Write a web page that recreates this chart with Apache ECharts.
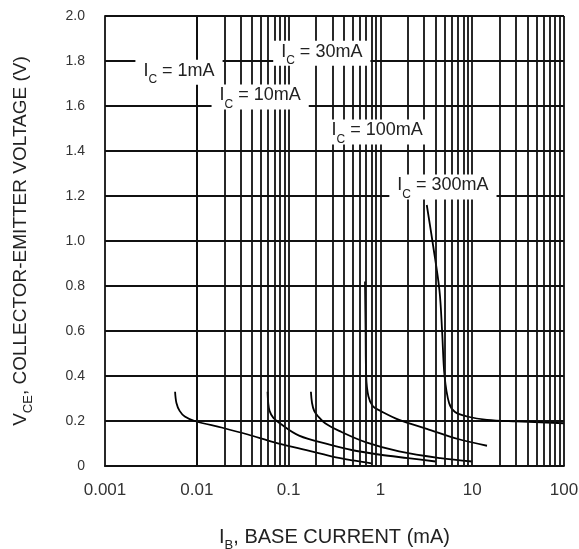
<!DOCTYPE html>
<html><head><meta charset="utf-8">
<script src="https://cdn.jsdelivr.net/npm/echarts@6/dist/echarts.min.js"></script>
<style>html,body{margin:0;padding:0;background:#fff}#c{width:579px;height:549px}</style>
</head><body><div id="c"></div>
<script>
// ---- data ----
const xTickLabels = ['0.001', '0.01', '0.1', '1', '10', '100'];
const yTickLabels = ['0', '0.2', '0.4', '0.6', '0.8', '1.0', '1.2', '1.4', '1.6', '1.8', '2.0'];
const curveNames = ['1mA', '10mA', '30mA', '100mA', '300mA'];
// [IB (mA), VCE (V)]
const ic1mA = [[0.0058,0.33],[0.006,0.28],[0.0065,0.245],[0.0074,0.22],[0.0095,0.2],[0.019,0.17],[0.036,0.14],[0.07,0.105],[0.14,0.075],[0.3,0.042],[0.5,0.025],[0.8,0.012]];
const ic10mA = [[0.059,0.33],[0.06,0.28],[0.062,0.245],[0.068,0.215],[0.08,0.19],[0.13,0.135],[0.28,0.095],[0.5,0.07],[1.0,0.05],[2.0,0.035],[4.0,0.02]];
const ic30mA = [[0.175,0.33],[0.18,0.28],[0.19,0.245],[0.21,0.22],[0.25,0.19],[0.36,0.155],[0.7,0.105],[1.6,0.065],[4.5,0.035],[10,0.02]];
const ic100mA = [[0.68,0.82],[0.69,0.6],[0.7,0.4],[0.74,0.31],[0.83,0.265],[1.0,0.245],[1.6,0.205],[3.2,0.165],[7,0.12],[14.5,0.09]];
const ic300mA = [[3.2,1.16],[3.75,0.98],[4.4,0.78],[4.7,0.6],[5.0,0.4],[5.6,0.28],[6.5,0.24],[8.8,0.22],[14.5,0.205],[30,0.198],[100,0.19]];
const curves = [ic1mA, ic10mA, ic30mA, ic100mA, ic300mA];
// label anchors [IB, VCE] for each curve annotation
const labelAnchors = [[0.0064,1.75],[0.049,1.64],[0.23,1.835],[0.92,1.485],[4.8,1.24]];

// ---- grid line values of the log axis (1..9 per decade) ----
const vLines = [];
for (let k = -3; k <= 1; k++) for (let m = 1; m <= 9; m++) vLines.push(parseFloat((m * Math.pow(10, k)).toPrecision(3)));
vLines.push(100);

const FONT = 'Liberation Sans';
const TXT = '#222';
const GRID = '#111';

const chart = echarts.init(document.getElementById('c'), null, {renderer: 'canvas'});

const subRich = {
  m: {fontSize: 18, fontFamily: FONT, color: TXT, lineHeight: 22, verticalAlign: 'top'},
  s: {fontSize: 12, fontFamily: FONT, color: TXT, lineHeight: 12, padding: [12, 0, 0, 0], verticalAlign: 'top'}
};

const series = [];
series.push({
  type: 'line', data: [], z: 1, silent: true,
  markLine: {
    silent: true, symbol: 'none', animation: false,
    label: {show: false},
    emphasis: {disabled: true},
    lineStyle: {color: GRID, width: 1.8, type: 'solid', opacity: 1},
    data: vLines.map(v => ({xAxis: v}))
  }
});
curves.forEach((c, i) => {
  series.push({
    name: 'IC=' + curveNames[i], type: 'line', data: c, z: 3,
    showSymbol: false, smooth: 0.35, animation: false,
    lineStyle: {color: '#000', width: 1.8}
  });
});
series.push({
  type: 'scatter', z: 10, symbolSize: 0, animation: false, silent: true,
  data: labelAnchors.map((p, i) => ({value: p, name: curveNames[i]})),
  label: {
    show: true, position: 'inside', opacity: 1,
    formatter: p => '{m|I}{s|C}{m| = ' + p.name + '}',
    backgroundColor: '#ffffff', padding: [2, 8, 1, 8],
    rich: subRich
  },
  emphasis: {disabled: true}
});

chart.setOption({
  backgroundColor: '#fff',
  animation: false,
  grid: {left: 105, right: 15, top: 16, bottom: 83, containLabel: false, outerBoundsMode: 'none'},
  xAxis: {
    type: 'log', logBase: 10, min: 0.001, max: 100, interval: 1,
    axisLine: {show: true, lineStyle: {color: GRID, width: 1.8}},
    axisTick: {show: false},
    splitLine: {show: false},
    axisLabel: {
      fontFamily: FONT, fontSize: 17, color: '#333', margin: 16,
      formatter: (v, i) => xTickLabels[i]
    },
    name: '{m|I}{s|B}{m|, BASE CURRENT (mA)}',
    nameLocation: 'middle', nameGap: 61,
    nameTextStyle: {rich: {
      m: {fontSize: 20, fontFamily: FONT, color: TXT, lineHeight: 23, verticalAlign: 'top'},
      s: {fontSize: 13, fontFamily: FONT, color: TXT, lineHeight: 13, padding: [12, 0, 0, 0], verticalAlign: 'top'}
    }}
  },
  yAxis: {
    type: 'value', min: 0, max: 2, interval: 0.2,
    axisLine: {show: true, lineStyle: {color: GRID, width: 1.8}},
    axisTick: {show: false},
    splitLine: {show: true, lineStyle: {color: GRID, width: 1.8}},
    axisLabel: {
      fontFamily: FONT, fontSize: 14, color: '#333', margin: 20,
      formatter: (v, i) => yTickLabels[i]
    },
    name: '{m|V}{s|CE}{m|, COLLECTOR-EMITTER VOLTAGE (V)}',
    nameLocation: 'middle', nameGap: 72, nameRotate: 90,
    nameTextStyle: {rich: {
      m: {fontSize: 19, fontFamily: FONT, color: TXT, lineHeight: 22, verticalAlign: 'top'},
      s: {fontSize: 13, fontFamily: FONT, color: TXT, lineHeight: 13, padding: [11, 0, 0, 0], verticalAlign: 'top'}
    }}
  },
  series: series
});
</script></body></html>
